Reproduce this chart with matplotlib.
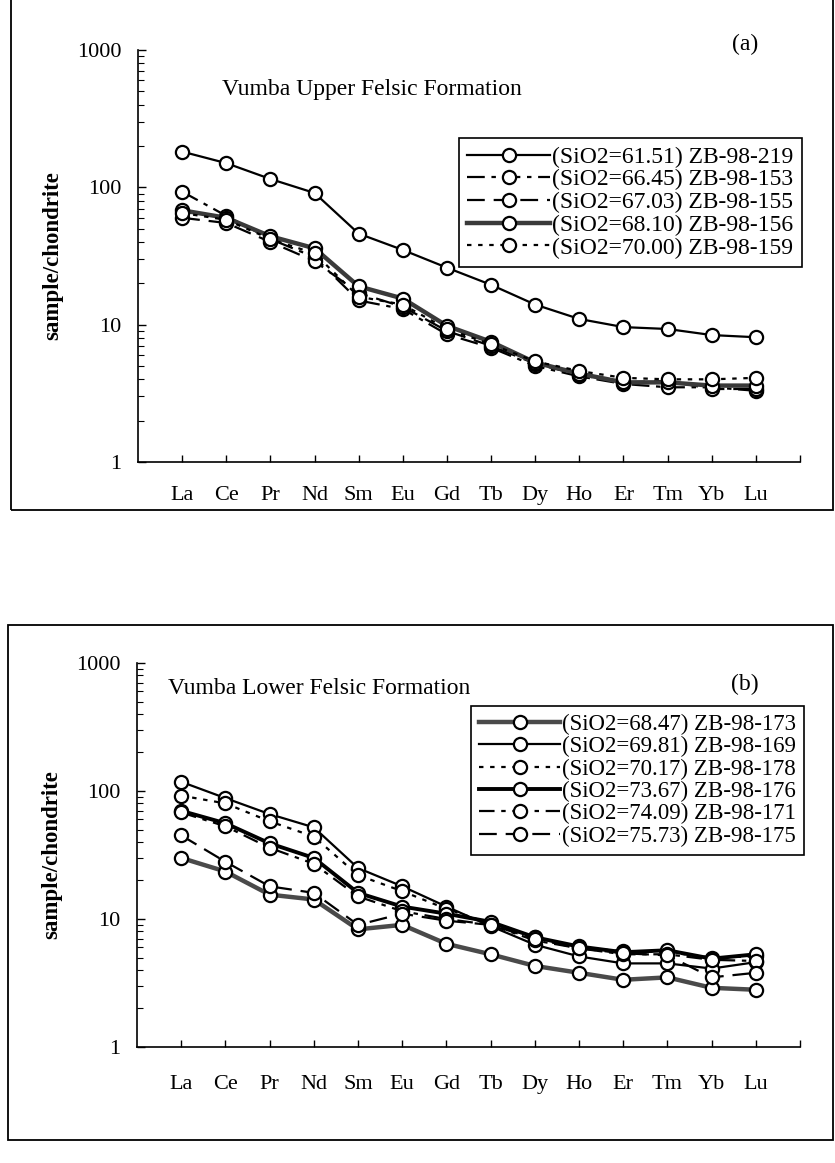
import matplotlib
matplotlib.use("Agg")
import matplotlib.pyplot as plt
from matplotlib.patches import Rectangle
from matplotlib.ticker import LogLocator, NullFormatter, FixedLocator, FixedFormatter

plt.rcParams['font.family'] = ['Liberation Serif', 'DejaVu Serif']

W, H = 835, 1163

elements = ["La", "Ce", "Pr", "Nd", "Sm", "Eu", "Gd", "Tb", "Dy", "Ho", "Er", "Tm", "Yb", "Lu"]

# panel (a) - Vumba Upper Felsic Formation
a_labels = ["(SiO2=61.51) ZB-98-219", "(SiO2=66.45) ZB-98-153", "(SiO2=67.03) ZB-98-155",
            "(SiO2=68.10) ZB-98-156", "(SiO2=70.00) ZB-98-159"]
zb219 = [182, 150, 115, 91, 46, 35, 26, 19.5, 14, 11, 9.6, 9.3, 8.4, 8.1]
zb153 = [93, 62, 42, 31, 15, 13, 8.5, 6.8, 5.0, 4.2, 3.7, 3.5, 3.5, 3.3]
zb155 = [60, 55, 40, 29, 17, 13.5, 9.0, 7.0, 5.2, 4.3, 3.8, 3.9, 3.4, 3.4]
zb156 = [68, 60, 44, 36, 19, 15.5, 9.8, 7.5, 5.3, 4.4, 3.8, 3.8, 3.6, 3.6]
zb159 = [65, 58, 42, 33, 16, 14, 9.3, 7.2, 5.4, 4.6, 4.1, 4.0, 4.0, 4.1]

# panel (b) - Vumba Lower Felsic Formation
b_labels = ["(SiO2=68.47) ZB-98-173", "(SiO2=69.81) ZB-98-169", "(SiO2=70.17) ZB-98-178",
            "(SiO2=73.67) ZB-98-176", "(SiO2=74.09) ZB-98-171", "(SiO2=75.73) ZB-98-175"]
zb173 = [30, 23.5, 15.5, 14.2, 8.3, 9.0, 6.4, 5.3, 4.3, 3.8, 3.35, 3.5, 2.9, 2.8]
zb169 = [118, 88, 66, 52, 25, 18, 12.5, 8.8, 6.3, 5.1, 4.5, 4.5, 4.1, 4.6]
zb178 = [92, 80, 58, 44, 22, 16.5, 12, 9.2, 7.2, 6.0, 5.6, 5.5, 5.0, 5.1]
zb176 = [70, 56, 39, 30, 16, 12.5, 11, 9.5, 7.2, 6.1, 5.5, 5.7, 4.9, 5.3]
zb171 = [68, 53, 36, 27, 15, 11.5, 10, 9.0, 6.8, 5.9, 5.3, 5.3, 4.8, 4.7]
zb175 = [45, 28, 18, 16, 9, 11, 9.7, 9.0, 7.0, 5.9, 5.4, 5.2, 3.5, 3.8]


def px(x0, y0, x1, y1):
    # pixel box (top-left origin) -> figure fraction rect
    return [x0 / W, 1 - y1 / H, (x1 - x0) / W, (y1 - y0) / H]


def style_axes(ax, xpad):
    ax.set_yscale('log')
    ax.set_ylim(1, 1000)
    ax.set_xlim(0, 15)
    for s in ['top', 'right']:
        ax.spines[s].set_visible(False)
    for s in ['left', 'bottom']:
        ax.spines[s].set_linewidth(1.2)
    ax.yaxis.set_major_locator(FixedLocator([1, 10, 100, 1000]))
    ax.yaxis.set_major_formatter(FixedFormatter(['1', '10', '100', '1000']))
    ax.yaxis.set_minor_locator(LogLocator(base=10, subs=range(2, 10)))
    ax.yaxis.set_minor_formatter(NullFormatter())
    ax.xaxis.set_major_locator(FixedLocator(range(1, 16)))
    ax.xaxis.set_major_formatter(FixedFormatter(elements + ['']))
    ax.tick_params(axis='y', which='major', direction='in', length=6, width=1, labelsize=16, pad=12)
    ax.tick_params(axis='y', which='minor', direction='in', length=4, width=0.8)
    ax.tick_params(axis='x', direction='in', length=5, width=1, labelsize=16, pad=xpad)
    ax.set_ylabel('sample/chondrite', fontsize=16.5, fontweight='bold', labelpad=10)


def draw(ax, series, styles, labels):
    x = range(1, len(elements) + 1)
    for vals, st, lab in zip(series, styles, labels):
        ax.plot(x, vals, marker='o', markersize=9.5, markerfacecolor='white',
                markeredgecolor='black', markeredgewidth=1.6, label=lab, **st)


def add_legend(ax, right, top, size):
    leg = ax.legend(loc='upper right', bbox_to_anchor=(right / W, 1 - top / H),
                    bbox_transform=fig.transFigure, fontsize=size, frameon=True, fancybox=False,
                    edgecolor='black', framealpha=1, handlelength=3.5, handletextpad=0.1,
                    labelspacing=0.05, borderpad=0.35, borderaxespad=0)
    leg.get_frame().set_linewidth(1.2)
    return leg


fig = plt.figure(figsize=(W / 100, H / 100), dpi=100)

# outer frames
fig.add_artist(Rectangle((11 / W, 1 - 510 / H), 822 / W, 520 / H, transform=fig.transFigure,
                         fill=False, edgecolor='black', linewidth=1.3))
fig.add_artist(Rectangle((8 / W, 1 - 1140 / H), 825 / W, 515 / H, transform=fig.transFigure,
                         fill=False, edgecolor='black', linewidth=1.3))

# panel (a)
ax1 = fig.add_axes(px(138, 50, 800, 462))
style_axes(ax1, 17)
a_styles = [
    dict(color='black', linewidth=1.6, linestyle='-'),
    dict(color='black', linewidth=1.6, linestyle=(0, (8, 3, 2, 3))),
    dict(color='black', linewidth=1.6, linestyle=(0, (8, 4))),
    dict(color='#3a3a3a', linewidth=3.2, linestyle='-'),
    dict(color='black', linewidth=1.6, linestyle=(0, (2, 3))),
]
draw(ax1, [zb219, zb153, zb155, zb156, zb159], a_styles, a_labels)
add_legend(ax1, 802, 138, 17)
fig.text(222 / W, 1 - 90 / H, 'Vumba Upper Felsic Formation', fontsize=17, va='center', ha='left')
fig.text(745 / W, 1 - 44 / H, '(a)', fontsize=17, va='center', ha='center')

# panel (b)
ax2 = fig.add_axes(px(137, 663, 800, 1047))
style_axes(ax2, 20)
b_styles = [
    dict(color='#4a4a4a', linewidth=3.2, linestyle='-'),
    dict(color='black', linewidth=1.6, linestyle='-'),
    dict(color='black', linewidth=1.6, linestyle=(0, (2, 3))),
    dict(color='black', linewidth=2.8, linestyle='-'),
    dict(color='black', linewidth=1.6, linestyle=(0, (7, 3, 2, 3))),
    dict(color='black', linewidth=1.6, linestyle=(0, (8, 4))),
]
draw(ax2, [zb173, zb169, zb178, zb176, zb171, zb175], b_styles, b_labels)
add_legend(ax2, 804, 706, 16.5)
fig.text(168 / W, 1 - 689 / H, 'Vumba Lower Felsic Formation', fontsize=17, va='center', ha='left')
fig.text(745 / W, 1 - 684 / H, '(b)', fontsize=17, va='center', ha='center')

fig.savefig('out.png', dpi=100)
